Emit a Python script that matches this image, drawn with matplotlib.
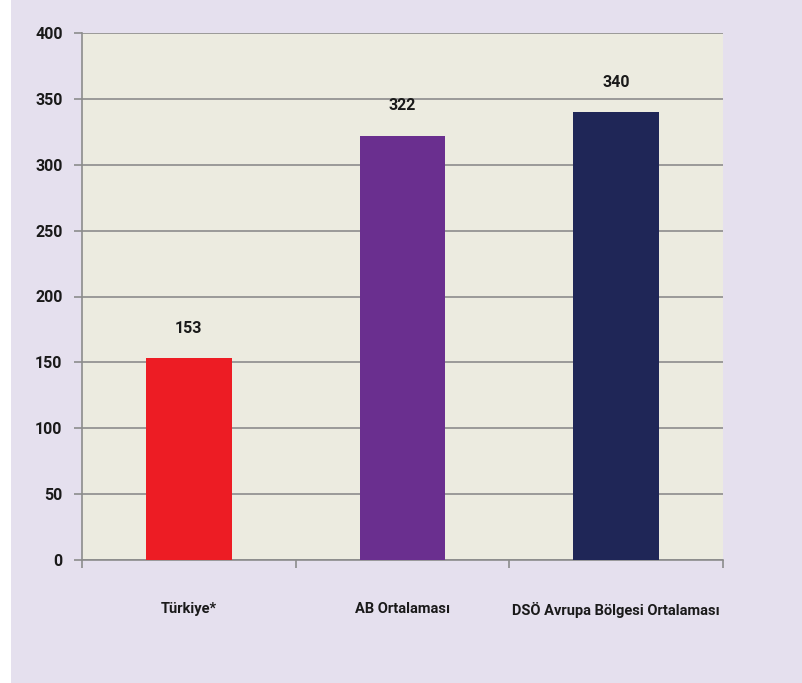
import matplotlib
matplotlib.use("Agg")
import matplotlib.pyplot as plt
from matplotlib.patches import Rectangle

categories = ["Türkiye*", "AB Ortalaması", "DSÖ Avrupa Bölgesi Ortalaması"]
values = [153, 322, 340]
colors = ["#ED1C24", "#6A2F8F", "#1F2657"]
yticks = [0, 50, 100, 150, 200, 250, 300, 350, 400]

plt.rcParams["font.family"] = ["Roboto", "DejaVu Sans"]
plt.rcParams["font.weight"] = "bold"

fig = plt.figure(figsize=(8.02, 6.83), dpi=100, facecolor="white")
fig.patches.append(Rectangle((11 / 802, 0), 1, 1, transform=fig.transFigure,
                             facecolor="#E5E0EE", edgecolor="none", zorder=-1))

ax = fig.add_axes([82 / 802, 1 - 560 / 683, (723 - 82) / 802, (560 - 33) / 683])
ax.set_facecolor("#ECEBE0")

x = range(len(categories))
ax.bar(x, values, width=0.4, color=colors, zorder=3)
for i, v in enumerate(values):
    ax.text(i, v + 17, str(v), ha="center", va="bottom", fontsize=11.5,
            fontweight="bold", color="#1a1a1a")

ax.set_xlim(-0.5, len(categories) - 0.5)
ax.set_ylim(0, 400)
ax.set_yticks(yticks)
ax.set_yticklabels([str(t) for t in yticks], fontsize=11.5, fontweight="bold", color="#1a1a1a")
ax.yaxis.grid(True, color="#8c8c8c", linewidth=1.2, zorder=0)
ax.set_axisbelow(True)

ax.set_xticks([-0.5, 0.5, 1.5, 2.5])
ax.set_xticklabels([])
ax.set_xticks(list(x), minor=True)
ax.set_xticklabels(categories, minor=True, fontsize=10.5, fontweight="bold", color="#1a1a1a")
ax.tick_params(axis="x", which="minor", length=0, pad=30)
ax.tick_params(axis="x", which="major", length=6, color="#8c8c8c", width=1.2)
ax.tick_params(axis="y", length=6, color="#8c8c8c", width=1.2, pad=8)

for side in ["top", "right"]:
    ax.spines[side].set_visible(False)
ax.spines["left"].set_color("#8c8c8c")
ax.spines["bottom"].set_color("#8c8c8c")
ax.spines["left"].set_linewidth(1.2)
ax.spines["bottom"].set_linewidth(1.2)

fig.savefig("out.png", dpi=100, facecolor=fig.get_facecolor())
